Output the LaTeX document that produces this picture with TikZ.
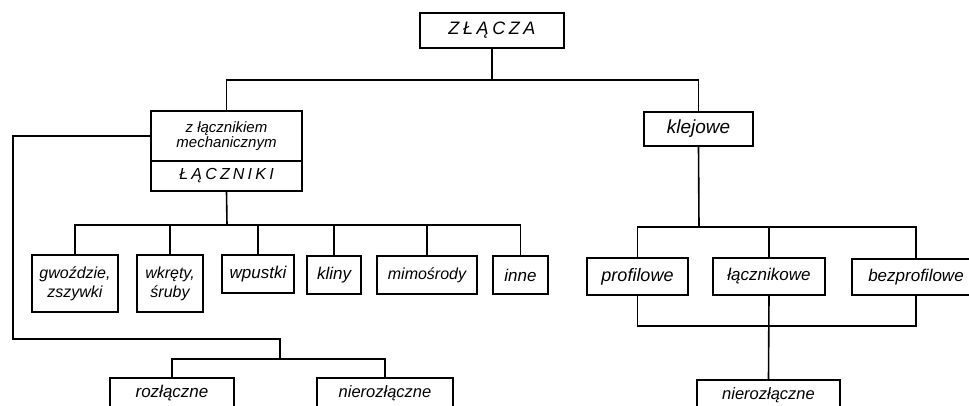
\documentclass[tikz,border=0pt]{standalone}
\usepackage{fontspec}
\setmainfont{Liberation Sans}
\newfontfamily\spacedfont{Liberation Sans}[LetterSpace=20]
\tikzstyle{box}=[rectangle,draw,line width=1.6pt,inner sep=2pt,align=center,font=\fontsize{17}{19}\selectfont\itshape]
\tikzstyle{wire}=[line width=1.6pt]

\begin{document}
\begin{tikzpicture}[x=1pt,y=-1pt]
		\useasboundingbox (0,0) rectangle (969,405);
		\node[box,minimum width=144pt,minimum height=35pt,font=\fontsize{18}{20}\spacedfont\itshape] at (492, 30.5) (zlacza) {ZŁĄCZA};
		\node[box,minimum width=151pt,minimum height=50pt,font=\fontsize{15}{15.5}\selectfont\itshape] at (226.5, 136) (mech) {z łącznikiem\\mechanicznym};
		\node[box,minimum width=151pt,minimum height=30pt,font=\fontsize{16}{18}\spacedfont\itshape] at (226.5, 176) (lacz) {ŁĄCZNIKI};
		\node[box,minimum width=109pt,minimum height=34pt,font=\fontsize{19}{21}\selectfont\itshape] at (698.5, 129) (klej) {klejowe};
		\node[box,minimum width=86pt,minimum height=57pt,font=\fontsize{16}{19}\selectfont\itshape] at (75, 283.5) (gw) {gwoździe,\\zszywki};
		\node[box,minimum width=66pt,minimum height=57pt,font=\fontsize{16}{19}\selectfont\itshape] at (170, 283.5) (wk) {wkręty,\\śruby};
		\node[box,minimum width=72pt,minimum height=38pt] at (258, 274) (wp) {wpustki};
		\node[box,minimum width=54pt,minimum height=38pt] at (334, 275) (kl) {kliny};
		\node[box,minimum width=100pt,minimum height=38pt,font=\fontsize{16}{18}\selectfont\itshape] at (427, 275) (mi) {mimośrody};
		\node[box,minimum width=55pt,minimum height=38pt] at (520.5, 275) (inne) {inne};
		\node[box,minimum width=101pt,minimum height=37pt,font=\fontsize{18}{20}\selectfont\itshape] at (637.5, 276.5) (prof) {profilowe};
		\node[box,minimum width=112pt,minimum height=37pt] at (769, 276.5) (lacznik) {łącznikowe};
		\node[box,minimum width=128pt,minimum height=36pt] at (916, 277) (bezp) {bezprofilowe};
		\node[box,minimum width=124pt,minimum height=30pt] at (172, 393) (rozl) {rozłączne};
		\node[box,minimum width=136pt,minimum height=30pt,font=\fontsize{16.5}{18}\selectfont\itshape] at (385, 393) (nier1) {nierozłączne};
		\node[box,minimum width=143pt,minimum height=30pt,font=\fontsize{16.5}{18}\selectfont\itshape] at (768.5, 395) (nier2) {nierozłączne};
		\coordinate (busT) at (492, 80);
		\coordinate (busL) at (227, 225);
		\coordinate (busR) at (699, 227);
		\coordinate (busR2) at (769, 326);
		\coordinate (corner) at (13, 339);
		\coordinate (busB) at (280, 359);
		\draw[wire] (zlacza.south) -- (busT);
		\draw[wire] (mech.north) |- (busT) -| (klej.north);
		\draw[wire] (lacz.south) -- (busL);
		\foreach \n in {gw,wk,wp,kl,mi,inne}
			\draw[wire] (busL) -| (\n.north);
		\draw[wire] (klej.south) -- (busR);
		\foreach \n in {prof,lacznik,bezp}
			\draw[wire] (busR) -| (\n.north);
		\draw[wire] (prof.south) |- (busR2) -| (bezp.south);
		\draw[wire] (lacznik.south) -- (nier2.north);
		\draw[wire] (mech.west) -| (corner) -| (busB);
		\draw[wire] (rozl.north) |- (busB) -| (nier1.north);
		\end{tikzpicture}
\end{document}
